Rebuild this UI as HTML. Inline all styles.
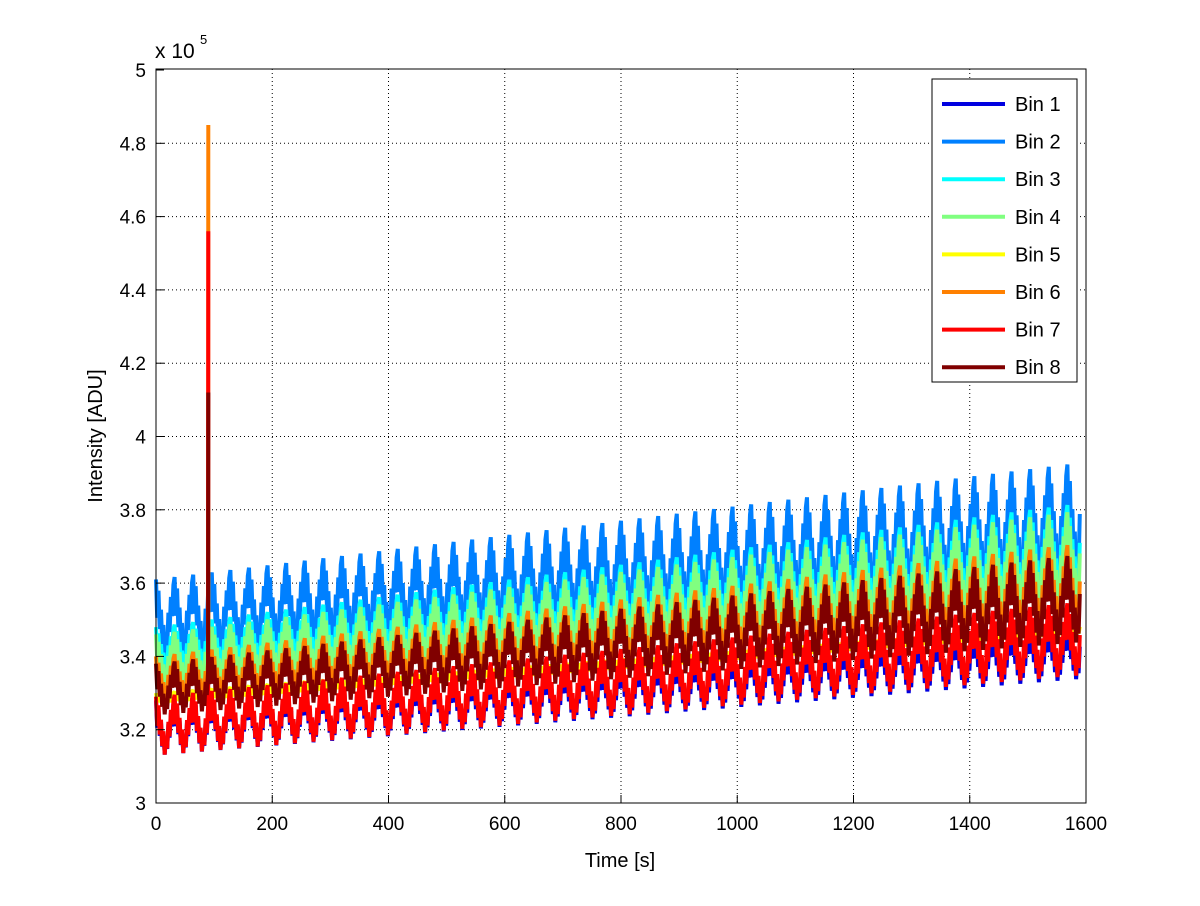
<!DOCTYPE html>
<html><head><meta charset="utf-8"><style>
body{margin:0;background:#fff}
svg text{font-family:"Liberation Sans",sans-serif;fill:#000}
</style></head><body>
<svg id="chart" width="1200" height="901" xmlns="http://www.w3.org/2000/svg">
<rect width="1200" height="901" fill="#fff"/>
<g id="grid"></g>
<g id="series"></g>
<rect x="156" y="69" width="930" height="734" fill="none" stroke="#000" stroke-width="1"/>
<g id="ticks"></g>
<text x="155" y="58" font-size="21">x 10</text>
<text x="200" y="44" font-size="13">5</text>
<text x="620" y="867" font-size="20" text-anchor="middle">Time [s]</text>
<text x="102" y="436" font-size="20" text-anchor="middle" transform="rotate(-90 102 436)">Intensity [ADU]</text>
<g id="legend"></g>
</svg>
<script>
const seriesNames=["Bin 1","Bin 2","Bin 3","Bin 4","Bin 5","Bin 6","Bin 7","Bin 8"];
const seriesColors=["#0000e0","#0080ff","#00ffff","#80ff80","#ffff00","#ff8000","#ff0000","#800000"];
const lowStart=[3.13,3.40,3.36,3.32,3.26,3.28,3.13,3.24];
const lowEnd=[3.34,3.62,3.58,3.54,3.46,3.48,3.35,3.44];
const highStart=[3.28,3.61,3.48,3.46,3.30,3.40,3.29,3.38];
const highEnd=[3.50,3.93,3.82,3.80,3.50,3.71,3.55,3.68];
const cycleShape=[1.0,0.5,0.85,0.35,0.6,0.15,0.4,0.0,0.3,0.1,0.55,0.3,0.75,0.5,0.9];
const spikeTime=90;
const spikePeak=[3.5,3.6,3.6,3.7,3.8,4.85,4.56,4.12];
const xTicks=[0,200,400,600,800,1000,1200,1400,1600];
const yTicks=[3,3.2,3.4,3.6,3.8,4,4.2,4.4,4.6,4.8,5];
const period=32, tMax=1590;
const NS="http://www.w3.org/2000/svg";
const X=t=>156+t*930/1600;
const Y=v=>803-(v-3)*733/2;
function mk(tag,attrs,parent){const e=document.createElementNS(NS,tag);for(const k in attrs)e.setAttribute(k,attrs[k]);parent.appendChild(e);return e;}
const grid=document.getElementById('grid'),ticks=document.getElementById('ticks');
xTicks.forEach(t=>{
 if(t>0&&t<1600){const g=mk('line',{x1:X(t),x2:X(t),y1:69,y2:803,stroke:'#000','stroke-dasharray':'1,3'},grid);
 
 }
 const l=mk('line',{x1:X(t),x2:X(t),y1:803,y2:795,stroke:'#000'},ticks);
 
 
 const tx=mk('text',{x:X(t),y:830,'font-size':19,'text-anchor':'middle'},ticks);tx.textContent=t;
 
 
});
yTicks.forEach(v=>{
 if(v>3&&v<5){const g=mk('line',{x1:156,x2:1086,y1:Y(v),y2:Y(v),stroke:'#000','stroke-dasharray':'1,3'},grid);
 
 }
 const l=mk('line',{x1:156,x2:164,y1:Y(v),y2:Y(v),stroke:'#000'},ticks);
 
 
 const tx=mk('text',{x:146,y:Y(v)+7,'font-size':19,'text-anchor':'end'},ticks);tx.textContent=String(v);
 
 
});
const sg=document.getElementById('series');
seriesNames.forEach((name,i)=>{
 const pts=[];
 const n=cycleShape.length;
 for(let c=0;c*period<tMax;c++){
  cycleShape.forEach((f,j)=>{
   const t=c*period+j*period/n;
   if(t>tMax)return;
   const r=t/1600;
   const lo=lowStart[i]+(lowEnd[i]-lowStart[i])*r;
   const hi=highStart[i]+(highEnd[i]-highStart[i])*r;
   const v=lo+(hi-lo)*f;
   pts.push([X(t),Y(v)]);
   if(Math.abs(t-spikeTime)<period/n/2){pts.push([X(spikeTime),Y(spikePeak[i])]);pts.push([X(t),Y(v)]);}
  });
 }
 const p=mk('polyline',{points:pts.map(q=>q[0].toFixed(1)+','+q[1].toFixed(1)).join(' '),fill:'none',stroke:seriesColors[i],'stroke-width':4,'stroke-linejoin':'bevel'},sg);
 
 
});
const lg=document.getElementById('legend');
const box=mk('rect',{x:932,y:79,width:145,height:303,fill:'#fff',stroke:'#000'},lg);


seriesNames.forEach((name,i)=>{
 const y=104+i*37.6;
 const l=mk('line',{x1:942,x2:1005,y1:y,y2:y,stroke:seriesColors[i],'stroke-width':4},lg);
 
 
 const t=mk('text',{x:1015,y:y+7,'font-size':20},lg);t.textContent=name;
 
 
});
</script>
</body></html>
